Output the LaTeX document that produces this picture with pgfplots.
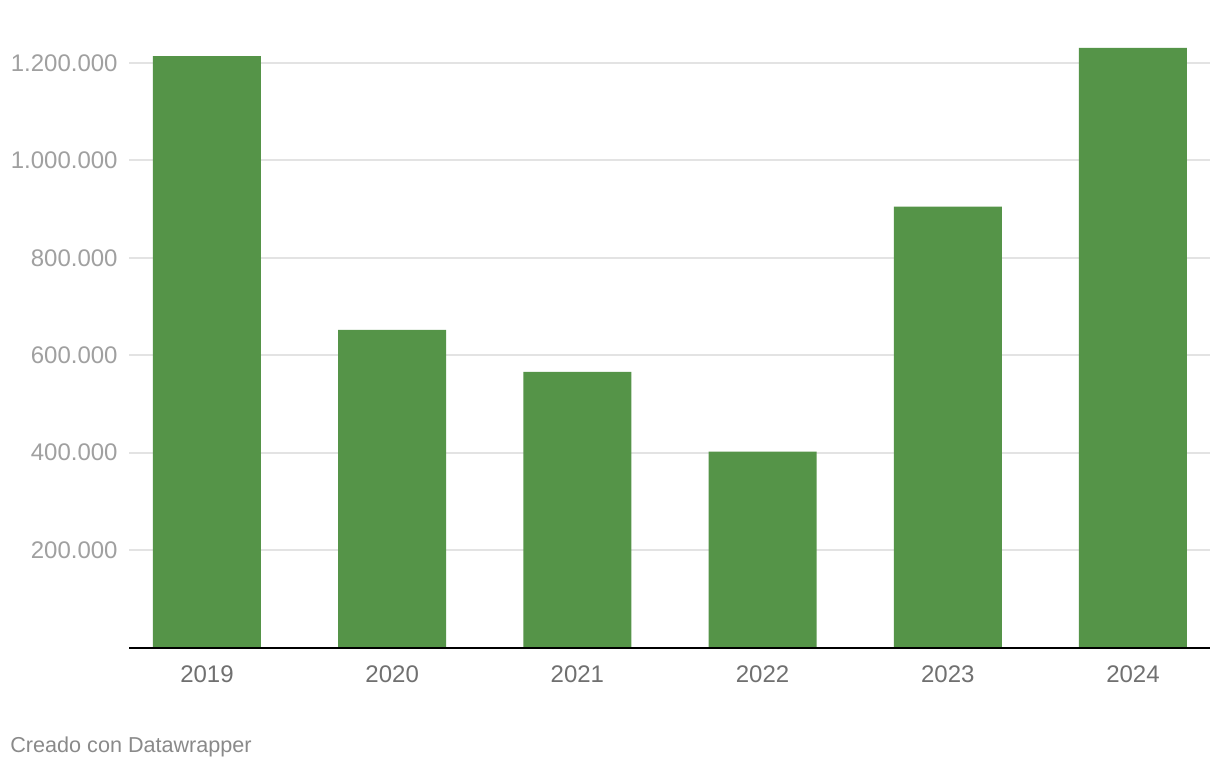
\documentclass[border=0pt]{standalone}
\usepackage{fontspec}
\setmainfont{Liberation Sans}
\usepackage{pgfplots}
\pgfplotsset{compat=1.18}
\definecolor{bargreen}{HTML}{559448}
\definecolor{ylab}{HTML}{A0A0A0}
\definecolor{xlab}{HTML}{707070}
\definecolor{gridgray}{HTML}{E3E3E3}
\definecolor{credit}{HTML}{8A8A8A}
\begin{document}
\begin{tikzpicture}
\path[use as bounding box, fill=white] (0,0) rectangle (610pt,385pt);
\begin{axis}[
  at={(64.5pt,61.2pt)}, anchor=south west,
  width=540.5pt, height=304.5pt, scale only axis,
  xmin=-0.421, xmax=5.416,
  ymin=0, ymax=1250000,
  axis line style={draw=none},
  ybar, bar width=54pt,
  xtick={0,1,2,3,4,5},
  xticklabels={2019,2020,2021,2022,2023,2024},
  ytick={200000,400000,600000,800000,1000000,1200000},
  yticklabels={200.000,400.000,600.000,800.000,1.000.000,1.200.000},
  scaled y ticks=false,
  major tick length=0pt,
  xmajorgrids=false,
  ymajorgrids=true,
  major grid style={draw=gridgray, line width=0.9pt},
  yticklabel style={anchor=east, inner sep=0pt, xshift=-5.5pt, text=ylab, font=\fontsize{12}{14}\selectfont},
  xticklabel style={anchor=north, inner sep=0pt, yshift=-9pt, text=xlab, font=\fontsize{12}{14}\selectfont},
  clip=false,
]
\addplot[fill=bargreen, draw=none] coordinates {(0,1214000) (1,652000) (2,566000) (3,402000) (4,905000) (5,1231000)};
\draw[black, line width=1pt] (axis cs:-0.421,0) -- (axis cs:5.416,0);
\end{axis}
\node[anchor=base west, inner sep=0pt, text=credit, font=\fontsize{10.8}{12}\selectfont] at (5pt,8.5pt) {Creado con Datawrapper};
\end{tikzpicture}
\end{document}
